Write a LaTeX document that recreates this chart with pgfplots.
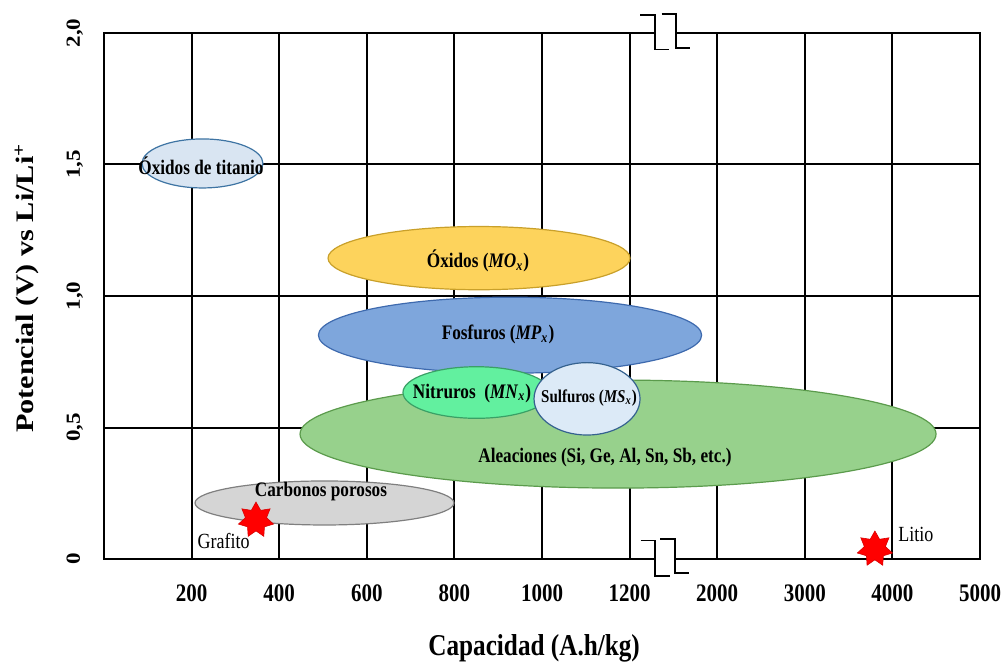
\documentclass[border=0pt]{standalone}
\usepackage{fontspec}
\setmainfont{Liberation Serif}
\usepackage{pgfplots}
\pgfplotsset{compat=1.18}

\definecolor{titfill}{HTML}{D9E5F2}\definecolor{titdraw}{HTML}{3E74A3}
\definecolor{oxfill}{HTML}{FDD35C}\definecolor{oxdraw}{HTML}{C9A02A}
\definecolor{fosfill}{HTML}{7EA6DC}\definecolor{fosdraw}{HTML}{3E6AAE}
\definecolor{alefill}{HTML}{97D18C}\definecolor{aledraw}{HTML}{5B9B4C}
\definecolor{nitfill}{HTML}{62F09F}\definecolor{nitdraw}{HTML}{3AA066}
\definecolor{sulfill}{HTML}{DCEAF7}\definecolor{suldraw}{HTML}{35628F}
\definecolor{carfill}{HTML}{D5D5D5}\definecolor{cardraw}{HTML}{7F7F7F}

% seven-pointed star for Grafito / Litio
\pgfdeclareplotmark{star7}{%
  \pgfpathmoveto{\pgfpointpolar{90}{\pgfplotmarksize}}%
  \pgfpathlineto{\pgfpointpolar{115.71}{0.6\pgfplotmarksize}}%
  \pgfpathlineto{\pgfpointpolar{141.43}{\pgfplotmarksize}}%
  \pgfpathlineto{\pgfpointpolar{167.14}{0.6\pgfplotmarksize}}%
  \pgfpathlineto{\pgfpointpolar{192.86}{\pgfplotmarksize}}%
  \pgfpathlineto{\pgfpointpolar{218.57}{0.6\pgfplotmarksize}}%
  \pgfpathlineto{\pgfpointpolar{244.29}{\pgfplotmarksize}}%
  \pgfpathlineto{\pgfpointpolar{270}{0.6\pgfplotmarksize}}%
  \pgfpathlineto{\pgfpointpolar{295.71}{\pgfplotmarksize}}%
  \pgfpathlineto{\pgfpointpolar{321.43}{0.6\pgfplotmarksize}}%
  \pgfpathlineto{\pgfpointpolar{347.14}{\pgfplotmarksize}}%
  \pgfpathlineto{\pgfpointpolar{12.86}{0.6\pgfplotmarksize}}%
  \pgfpathlineto{\pgfpointpolar{38.57}{\pgfplotmarksize}}%
  \pgfpathlineto{\pgfpointpolar{64.29}{0.6\pgfplotmarksize}}%
  \pgfpathclose
  \pgfusepathqfillstroke
}

\newcommand\lab{\fontsize{8.6}{10}\selectfont\bfseries}

\begin{document}
\begin{tikzpicture}
\useasboundingbox (-52pt,-52pt) rectangle (450pt,279.5pt);
% x is an index: 0..6 -> 0..1200 (step 200), 7..10 -> 2000..5000 (broken scale)
\begin{axis}[
    scale only axis,
    width=438pt, height=263pt,
    xmin=0, xmax=10, ymin=0, ymax=2,
    clip=false,
    axis line style={black, line width=1pt},
    grid=major,
    major grid style={black, line width=1pt},
    major tick length=0pt,
    xtick={1,...,10},
    xticklabels={200,400,600,800,1000,1200,2000,3000,4000,5000},
    ytick={0,0.5,1,1.5,2},
    yticklabels={0,{0,5},{1,0},{1,5},{2,0}},
    xticklabel style={yshift=-21pt, anchor=base, inner sep=0pt, yscale=1.2,
        font=\fontsize{10.5}{12}\selectfont\bfseries},
    yticklabel style={xshift=-12pt, rotate=90, xscale=1.15, anchor=base, inner sep=0pt,
        font=\fontsize{10}{12}\selectfont\bfseries},
    xlabel={Capacidad (A.h/kg)},
    ylabel={Potencial (V) vs Li/Li\textsuperscript{+}},
    every axis x label/.style={at={(axis description cs:0.491,0)}, yshift=-48pt,
        anchor=base, inner sep=0pt, yscale=1.2,
        font=\fontsize{12.6}{14}\selectfont\bfseries},
    every axis y label/.style={at={(axis description cs:0,0.515)}, xshift=-35.3pt,
        rotate=90, xscale=1.2, anchor=base, inner sep=0pt,
        font=\fontsize{12.6}{14}\selectfont\bfseries},
]
% ellipses: centre in axis units, radius ry (pt) and x stretch rx/ry
\addplot[only marks, mark=*, mark size=27pt,
    mark options={xscale=5.889, fill=alefill, draw=aledraw, line width=0.6pt}]
    coordinates {(5.868,0.475)};
\addplot[only marks, mark=*, mark size=11pt,
    mark options={xscale=5.886, fill=carfill, draw=cardraw, line width=0.6pt}]
    coordinates {(2.517,0.213)};
\addplot[only marks, mark=*, mark size=19pt,
    mark options={xscale=5.042, fill=fosfill, draw=fosdraw, line width=0.6pt}]
    coordinates {(4.635,0.851)};
\addplot[only marks, mark=*, mark size=15.8pt,
    mark options={xscale=4.778, fill=oxfill, draw=oxdraw, line width=0.6pt}]
    coordinates {(4.281,1.144)};
\addplot[only marks, mark=*, mark size=12.25pt,
    mark options={xscale=2.469, fill=titfill, draw=titdraw, line width=0.6pt}]
    coordinates {(1.124,1.504)};
\addplot[only marks, mark=*, mark size=12.9pt,
    mark options={xscale=2.849, fill=nitfill, draw=nitdraw, line width=0.6pt}]
    coordinates {(4.252,0.633)};
\addplot[only marks, mark=*, mark size=18.1pt,
    mark options={xscale=1.464, fill=sulfill, draw=suldraw, line width=0.6pt}]
    coordinates {(5.514,0.609)};
% Grafito and Litio
\addplot[only marks, mark=star7, mark size=9pt,
    mark options={fill=red, draw=red!85!black, line width=0.3pt}]
    coordinates {(1.735,0.148) (8.80,0.038)};

% label positions (text is set after the axis, above the ellipses)
\coordinate (Ltit) at (axis cs:1.107,1.494);
\coordinate (Lox)  at (axis cs:4.269,1.133);
\coordinate (Lfos) at (axis cs:4.498,0.852);
\coordinate (Lnit) at (axis cs:4.201,0.631);
\coordinate (Lsul) at (axis cs:5.536,0.612);
\coordinate (Lale) at (axis cs:5.719,0.384);
\coordinate (Lcar) at (axis cs:2.477,0.255);
\coordinate (Lgra) at (axis cs:1.365,0.068);
\coordinate (Llit) at (axis cs:9.269,0.095);

% axis break marks
\fill[white] (axis cs:6.293,1.945) rectangle (axis cs:6.528,2.068);
\draw[line width=0.8pt] (axis cs:6.119,2.068) -- (axis cs:6.290,2.068) -- (axis cs:6.290,1.938) -- (axis cs:6.453,1.938);
\draw[line width=0.8pt] (axis cs:6.366,2.072) -- (axis cs:6.530,2.072) -- (axis cs:6.530,1.944) -- (axis cs:6.689,1.944);
\fill[white] (axis cs:6.295,-0.058) rectangle (axis cs:6.513,0.070);
\draw[line width=0.8pt] (axis cs:6.127,0.070) -- (axis cs:6.293,0.070) -- (axis cs:6.293,-0.065) -- (axis cs:6.461,-0.065);
\draw[line width=0.8pt] (axis cs:6.347,0.075) -- (axis cs:6.515,0.075) -- (axis cs:6.515,-0.054) -- (axis cs:6.675,-0.054);
\end{axis}
\node[font=\lab, yscale=1.2] at (Ltit) {Óxidos de titanio};
\node[font=\lab, yscale=1.2] at (Lox) {Óxidos (\textit{MO}\textsubscript{\textit{x}})};
\node[font=\lab, yscale=1.2] at (Lfos) {Fosfuros (\textit{MP}\textsubscript{\textit{x}})};
\node[font=\lab, yscale=1.2] at (Lnit) {Nitruros\ \ (\textit{MN}\textsubscript{\textit{x}})};
\node[font=\fontsize{7.5}{9}\selectfont\bfseries, yscale=1.2] at (Lsul) {Sulfuros (\textit{MS}\textsubscript{\textit{x}})};
\node[font=\lab, yscale=1.2] at (Lale) {Aleaciones (Si, Ge, Al, Sn, Sb, etc.)};
\node[font=\lab, yscale=1.2] at (Lcar) {Carbonos porosos};
\node[font=\fontsize{9}{11}\selectfont, yscale=1.2] at (Lgra) {Grafito};
\node[font=\fontsize{9}{11}\selectfont, yscale=1.2] at (Llit) {Litio};
\end{tikzpicture}
\end{document}
